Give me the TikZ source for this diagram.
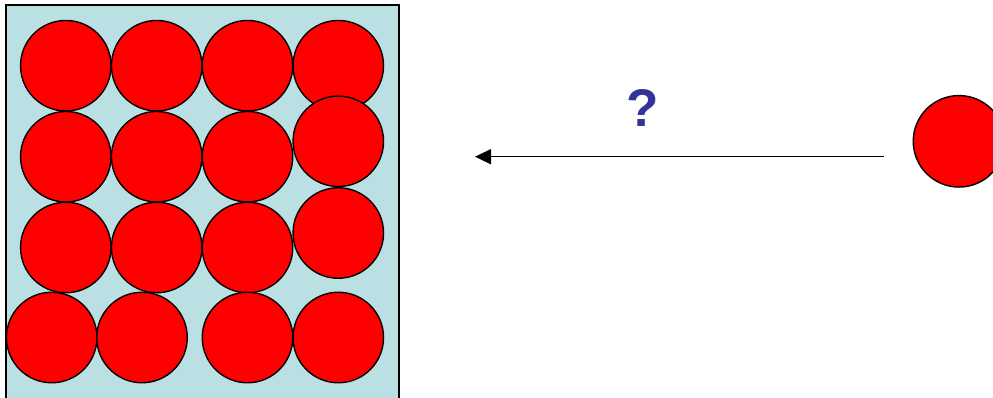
\documentclass[tikz,border=0pt]{standalone}
\usepackage{fontspec}
\setmainfont{Liberation Sans}
\usetikzlibrary{arrows.meta}
\definecolor{boxblue}{HTML}{BBE0E3}
\definecolor{qblue}{HTML}{333399}
\tikzset{
  ball/.style={circle, draw=black, fill=red, line width=1.4pt, minimum size=90.5pt, inner sep=0pt},
  frame/.style={draw=black, fill=boxblue, line width=2pt}
}
\begin{document}
\begin{tikzpicture}[x=1pt, y=-1pt]
\useasboundingbox (0,0) rectangle (993,397);
\begin{scope}
\clip (0,0) rectangle (993,397);
\draw[frame] (6,5) rectangle (399,410);
\node[ball] (b11) at (65.8,65.7) {};
\node[ball] (b12) at (156.7,65.7) {};
\node[ball] (b13) at (247.5,65.7) {};
\node[ball] (b14) at (338.3,65.7) {};
\node[ball] (b21) at (65.8,156.7) {};
\node[ball] (b22) at (156.7,156.7) {};
\node[ball] (b23) at (247.5,156.7) {};
\node[ball] (b24) at (338.3,141.3) {};
\node[ball] (b31) at (65.8,247.5) {};
\node[ball] (b32) at (156.7,247.5) {};
\node[ball] (b33) at (247.5,247.5) {};
\node[ball] (b34) at (338.3,233) {};
\node[ball] (b41) at (51.7,337.5) {};
\node[ball] (b42) at (142,337.5) {};
\node[ball] (b43) at (247.5,337.5) {};
\node[ball] (b44) at (338.3,337.5) {};
\node[ball, minimum size=91.5pt] (lone) at (959,141.3) {};
\end{scope}
\coordinate (astart) at (883.5,156.7);
\coordinate (aend) at (475,156.7);
\draw[line width=1.5pt, -{Triangle[length=16pt,width=15pt]}] (astart) -- (aend);
\node[text=qblue, font=\fontsize{53}{60}\selectfont\bfseries, inner sep=0pt, anchor=base] (q) at (642.7,126.7) {?};
\end{tikzpicture}
\end{document}
